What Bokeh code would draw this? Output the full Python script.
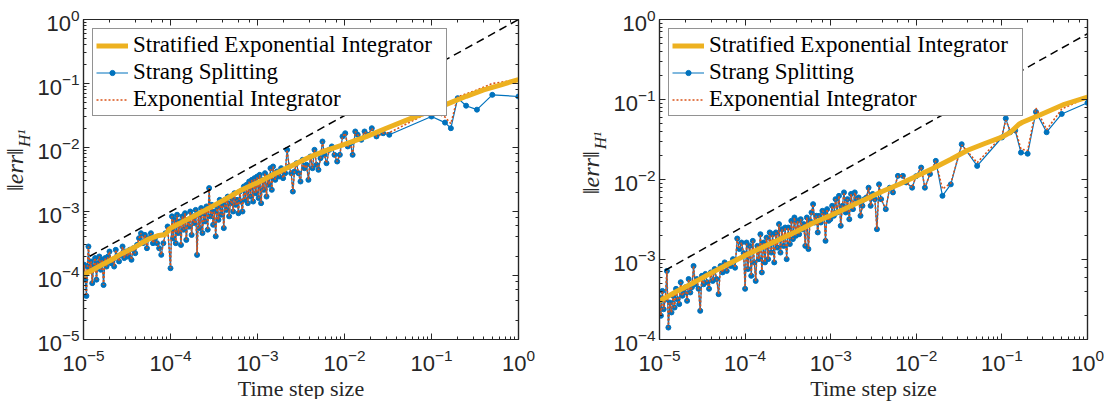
import math
from bokeh.plotting import figure
from bokeh.models import Range1d, LogAxis, Legend, LegendItem, CustomJSTickFormatter
from bokeh.layouts import row
from bokeh.embed import file_html
from bokeh.resources import INLINE
from bokeh.core.properties import value

YELLOW = "#EDB120"
BLUE = "#0072BD"
RED = "#D95319"
AX = "#262626"

# ---------------- LEFT PANEL DATA ----------------
left_strang_dt = [
    1.00e-5, 1.02e-5, 1.05e-5, 1.08e-5, 1.11e-5, 1.14e-5, 1.18e-5, 1.22e-5, 1.26e-5, 1.31e-5,
    1.36e-5, 1.41e-5, 1.46e-5, 1.52e-5, 1.58e-5, 1.64e-5, 1.70e-5, 1.77e-5, 1.84e-5, 1.91e-5,
    1.99e-5, 2.07e-5, 2.16e-5, 2.25e-5, 2.35e-5, 2.45e-5, 2.56e-5, 2.68e-5, 2.81e-5, 2.94e-5,
    3.08e-5, 3.23e-5, 3.39e-5, 3.56e-5, 3.74e-5, 3.93e-5, 4.13e-5, 4.35e-5, 4.58e-5, 4.82e-5,
    5.08e-5, 5.36e-5, 5.65e-5, 5.96e-5, 6.29e-5, 6.64e-5, 7.01e-5, 7.41e-5, 7.83e-5, 8.28e-5,
    8.76e-5, 9.27e-5,
    1.00e-4, 1.04e-4, 1.07e-4, 1.11e-4, 1.15e-4, 1.19e-4, 1.23e-4, 1.28e-4, 1.32e-4, 1.37e-4,
    1.42e-4, 1.47e-4, 1.52e-4, 1.58e-4, 1.63e-4, 1.69e-4, 1.75e-4, 1.82e-4, 1.88e-4, 1.95e-4,
    2.02e-4, 2.09e-4, 2.17e-4, 2.25e-4, 2.33e-4, 2.41e-4, 2.50e-4, 2.59e-4, 2.68e-4, 2.78e-4,
    2.88e-4, 2.98e-4, 3.09e-4, 3.20e-4, 3.31e-4, 3.43e-4, 3.56e-4, 3.68e-4, 3.82e-4, 3.95e-4,
    4.10e-4, 4.24e-4, 4.40e-4, 4.55e-4, 4.72e-4, 4.89e-4, 5.06e-4, 5.25e-4, 5.43e-4, 5.63e-4,
    5.83e-4, 6.04e-4, 6.26e-4, 6.48e-4,
    6.72e-4, 6.97e-4, 7.22e-4, 7.47e-4, 7.74e-4, 8.02e-4, 8.31e-4, 8.61e-4, 8.92e-4, 9.24e-4,
    9.57e-4, 9.91e-4, 1.03e-3, 1.06e-3, 1.10e-3, 1.14e-3, 1.18e-3, 1.22e-3, 1.27e-3, 1.31e-3,
    1.36e-3, 1.41e-3, 1.46e-3, 1.51e-3,
    1.60e-3, 1.68e-3, 1.77e-3, 1.87e-3, 1.97e-3, 2.08e-3, 2.19e-3, 2.31e-3, 2.44e-3, 2.55e-3,
    2.66e-3, 2.81e-3, 2.96e-3, 3.12e-3, 3.29e-3, 3.47e-3, 3.66e-3, 3.85e-3, 4.06e-3, 4.29e-3,
    4.52e-3, 4.77e-3, 5.02e-3, 5.30e-3, 5.58e-3, 5.89e-3, 6.21e-3, 6.67e-3, 7.15e-3, 7.67e-3,
    8.24e-3, 8.84e-3, 9.49e-3, 1.02e-2, 1.09e-2, 1.17e-2, 1.24e-2, 1.33e-2, 1.42e-2, 1.56e-2,
    1.70e-2, 1.86e-2, 2.06e-2, 2.33e-2, 2.78e-2, 3.27e-2,
    0.100, 0.143, 0.167, 0.200, 0.250, 0.333, 0.500, 1.000,
]
left_strang_err = [
    9.6e-5, 1.47e-4, 8.6e-5, 4.8e-5, 1.38e-4, 2.84e-4, 1.23e-4, 1.66e-4, 7.6e-5, 1.38e-4,
    1.87e-4, 8.6e-5, 1.56e-4, 1.98e-4, 1.23e-4, 1.76e-4, 7.1e-5, 1.87e-4, 1.38e-4, 1.98e-4,
    2.37e-4, 1.56e-4, 1.76e-4, 1.38e-4, 2.52e-4, 1.98e-4, 1.66e-4, 2.10e-4, 2.84e-4, 1.87e-4,
    2.37e-4, 1.98e-4, 2.52e-4, 1.76e-4, 2.67e-4, 2.23e-4, 3.01e-4, 3.83e-4, 4.58e-4, 3.20e-4,
    4.31e-4, 2.67e-4, 3.83e-4, 4.58e-4, 3.20e-4, 3.83e-4, 3.20e-4, 2.67e-4, 2.10e-4, 3.20e-4,
    4.58e-4, 5.83e-4,
    1.30e-4, 8.4e-4, 3.8e-4, 7.4e-4, 3.2e-4, 8.9e-4, 4.6e-4, 7.0e-4, 3.0e-4, 8.4e-4,
    5.2e-4, 9.4e-4, 3.6e-4, 7.4e-4, 5.8e-4, 1.00e-3, 4.3e-4, 8.4e-4, 6.6e-4, 1.06e-3,
    2.1e-4, 8.9e-4, 5.5e-4, 1.13e-3, 4.6e-4, 9.4e-4, 7.0e-4, 1.20e-3, 5.2e-4, 2.32e-3,
    8.4e-4, 1.27e-3, 6.2e-4, 1.00e-3, 4.1e-4, 1.20e-3, 7.4e-4, 1.52e-3, 8.9e-4, 1.27e-3,
    5.5e-4, 1.52e-3, 1.06e-3, 1.71e-3, 8.4e-4, 1.35e-3, 1.62e-3, 1.00e-3, 1.93e-3, 1.27e-3,
    1.52e-3, 9.4e-4, 2.05e-3, 1.43e-3,
    1.00e-3, 2.46e-3, 1.52e-3, 2.61e-3, 1.35e-3, 2.94e-3, 1.71e-3, 3.12e-3, 1.43e-3, 3.32e-3,
    1.93e-3, 3.52e-3, 1.62e-3, 3.74e-3, 1.35e-3, 3.12e-3, 2.18e-3, 3.97e-3, 1.71e-3, 3.52e-3,
    2.61e-3, 4.75e-3, 2.18e-3, 5.05e-3,
    3.12e-3, 4.22e-3, 3.52e-3, 4.75e-3, 3.32e-3, 3.97e-3, 9.2e-3, 5.05e-3, 3.97e-3, 2.05e-3,
    4.22e-3, 5.69e-3, 3.97e-3, 2.94e-3, 6.41e-3, 4.75e-3, 5.36e-3, 3.12e-3, 7.23e-3, 4.75e-3,
    9.2e-3, 5.36e-3, 4.48e-3, 6.81e-3, 1.24e-2, 7.67e-3, 5.69e-3, 9.2e-3, 1.04e-2, 7.67e-3,
    6.04e-3, 7.67e-3, 1.49e-2, 1.67e-2, 1.04e-2, 1.17e-2, 7.67e-3, 1.78e-2, 1.58e-2, 1.32e-2,
    1.78e-2, 1.58e-2, 2.00e-2, 1.49e-2, 1.67e-2, 1.58e-2,
    0.0305, 0.0245, 0.0200, 0.0590, 0.0450, 0.0390, 0.0665, 0.0627,
]
# Exponential integrator: identical to Strang except at the largest steps
left_expint_tail_err = [0.017, 0.037, 0.030, 0.0235, 0.062, 0.069, 0.079, 0.100, 0.115]
left_expint_err = left_strang_err[:-9] + left_expint_tail_err

left_sei_dt = [1.0e-5, 1.41e-5, 2.0e-5, 2.75e-5, 3.98e-5, 5.62e-5, 7.08e-5, 8.71e-5, 1.0e-4,
               1.58e-4, 2.51e-4, 3.98e-4, 6.61e-4, 1.0e-3, 1.58e-3, 2.51e-3, 3.98e-3, 6.31e-3,
               1.0e-2, 1.78e-2, 3.02e-2, 5.01e-2, 0.1, 0.158, 0.251, 0.398, 0.631, 1.0]
left_sei_err = [1.02e-4, 1.32e-4, 1.70e-4, 2.19e-4, 2.82e-4, 3.72e-4, 4.17e-4, 4.37e-4, 5.50e-4,
                7.59e-4, 1.05e-3, 1.48e-3, 2.19e-3, 2.82e-3, 3.89e-3, 5.25e-3, 7.08e-3, 9.12e-3,
                1.12e-2, 1.48e-2, 2.00e-2, 2.63e-2, 3.80e-2, 4.90e-2, 6.31e-2, 7.94e-2, 9.55e-2, 0.115]
left_ref_dt = [1.18e-5, 1.0]
left_ref_err = [2.0e-4, 1.0]

# ---------------- RIGHT PANEL DATA ----------------
right_strang_dt = [
    1.00e-5, 1.04e-5, 1.08e-5, 1.12e-5, 1.17e-5, 1.22e-5, 1.27e-5, 1.32e-5, 1.38e-5, 1.44e-5,
    1.50e-5, 1.56e-5, 1.63e-5, 1.70e-5, 1.77e-5, 1.85e-5, 1.93e-5, 2.01e-5, 2.10e-5, 2.19e-5,
    2.29e-5, 2.39e-5, 2.50e-5, 2.61e-5, 2.73e-5, 2.86e-5, 2.99e-5, 3.13e-5, 3.28e-5, 3.44e-5,
    3.61e-5, 3.79e-5, 3.98e-5, 4.19e-5, 4.41e-5, 4.65e-5, 4.90e-5, 5.17e-5, 5.46e-5, 5.77e-5,
    6.10e-5, 6.45e-5, 6.82e-5, 7.22e-5, 7.64e-5, 8.09e-5, 8.57e-5, 9.08e-5, 9.62e-5,
    1.00e-4, 1.04e-4, 1.08e-4, 1.13e-4, 1.18e-4, 1.23e-4, 1.28e-4, 1.33e-4, 1.39e-4, 1.45e-4,
    1.51e-4, 1.57e-4, 1.64e-4, 1.71e-4, 1.78e-4, 1.86e-4, 1.94e-4, 2.02e-4, 2.10e-4, 2.19e-4,
    2.29e-4, 2.38e-4, 2.49e-4, 2.59e-4, 2.70e-4, 2.82e-4, 2.94e-4, 3.06e-4, 3.19e-4, 3.33e-4,
    3.47e-4, 3.62e-4, 3.77e-4, 3.93e-4, 4.10e-4, 4.28e-4, 4.46e-4, 4.65e-4, 4.85e-4, 5.05e-4,
    5.27e-4, 5.49e-4, 5.73e-4, 5.97e-4, 6.23e-4, 6.49e-4, 6.77e-4, 7.06e-4, 7.36e-4, 7.67e-4,
    8.00e-4, 8.34e-4, 8.70e-4, 9.07e-4, 9.46e-4,
    9.9e-4, 1.04e-3, 1.09e-3, 1.14e-3, 1.19e-3, 1.25e-3, 1.31e-3, 1.37e-3, 1.43e-3, 1.50e-3,
    1.57e-3, 1.65e-3, 1.73e-3, 1.82e-3, 1.91e-3, 2.01e-3, 2.12e-3, 2.23e-3, 2.35e-3, 2.48e-3,
    2.62e-3, 2.77e-3, 2.93e-3, 3.10e-3, 3.28e-3, 3.47e-3, 3.67e-3, 3.88e-3, 4.40e-3, 4.89e-3,
    5.34e-3, 6.10e-3, 6.97e-3, 7.62e-3, 8.94e-3, 9.95e-3, 1.14e-2, 1.26e-2, 1.445e-2, 1.69e-2,
    2.02e-2, 2.53e-2, 3.39e-2, 5.14e-2,
    0.100, 0.111, 0.125, 0.143, 0.167, 0.200, 0.250, 0.333, 0.500, 1.000,
]
right_strang_err = [
    3.35e-4, 1.98e-4, 4.05e-4, 2.39e-4, 3.19e-4, 7.2e-4, 1.41e-4, 2.90e-4, 2.18e-4, 3.52e-4,
    2.51e-4, 4.3e-4, 3.19e-4, 2.77e-4, 5.2e-4, 3.52e-4, 3.87e-4, 4.5e-4, 3.04e-4, 5.7e-4,
    3.87e-4, 4.5e-4, 8.3e-4, 4.9e-4, 5.7e-4, 4.3e-4, 2.28e-4, 6.25e-4, 4.9e-4, 6.6e-4,
    5.2e-4, 4.3e-4, 6.9e-4, 5.4e-4, 7.6e-4, 5.7e-4, 3.69e-4, 8.3e-4, 6.9e-4, 9.2e-4,
    7.2e-4, 8.7e-4, 8.3e-4, 1.01e-3, 7.9e-4, 1.83e-3, 1.35e-3, 1.63e-3, 1.20e-3,
    4.3e-4, 1.63e-3, 7.6e-4, 1.48e-3, 6.25e-4, 1.71e-3, 9.2e-4, 5.4e-4, 1.48e-3, 1.01e-3,
    2.07e-3, 6.9e-4, 1.63e-3, 9.2e-4, 1.88e-3, 1.01e-3, 2.18e-3, 1.22e-3, 2.07e-3, 9.2e-4,
    2.18e-3, 1.41e-3, 2.77e-3, 1.22e-3, 2.39e-3, 1.48e-3, 2.51e-3, 1.01e-3, 2.51e-3, 1.56e-3,
    3.04e-3, 1.80e-3, 3.35e-3, 1.98e-3, 3.04e-3, 2.07e-3, 3.19e-3, 2.39e-3, 2.77e-3, 1.48e-3,
    3.35e-3, 1.35e-3, 3.04e-3, 3.87e-3, 4.92e-3, 2.90e-3, 3.52e-3, 2.18e-3, 3.52e-3, 2.90e-3,
    4.06e-3, 3.87e-3, 1.71e-3, 4.26e-3, 3.04e-3,
    3.19e-3, 4.69e-3, 3.52e-3, 5.68e-3, 3.87e-3, 6.25e-3, 2.64e-3, 4.69e-3, 6.9e-3, 3.87e-3,
    5.68e-3, 3.19e-3, 6.6e-3, 4.26e-3, 6.9e-3, 5.68e-3, 5.96e-3, 3.52e-3, 4.69e-3, 5.68e-3,
    5.96e-3, 7.9e-3, 4.69e-3, 6.6e-3, 5.68e-3, 2.39e-3, 8.7e-3, 5.68e-3, 4.26e-3, 7.9e-3,
    6.9e-3, 1.11e-2, 1.11e-2, 9.2e-3, 7.9e-3, 1.10e-2, 1.41e-2, 7.9e-3, 1.17e-2, 1.71e-2,
    6.25e-3, 8.7e-3, 2.76e-2, 1.48e-2,
    0.0335, 0.058, 0.039, 0.041, 0.0217, 0.021, 0.070, 0.039, 0.066, 0.091,
]
right_expint_tail_err = [7.6e-3, 9.0e-3, 2.70e-2, 1.62e-2,
                         0.035, 0.055, 0.041, 0.043, 0.024, 0.023, 0.078, 0.042, 0.076, 0.107]
right_expint_err = right_strang_err[:-14] + right_expint_tail_err

right_sei_dt = [1e-5, 1.58e-5, 2.51e-5, 3.98e-5, 6.31e-5, 1e-4, 1.58e-4, 2.51e-4, 3.98e-4, 6.31e-4,
                1e-3, 1.58e-3, 2.51e-3, 3.98e-3, 6.31e-3, 1e-2, 1.58e-2, 2.51e-2, 3.98e-2, 6.31e-2,
                0.1, 0.126, 0.158, 0.174, 0.282, 0.537, 1.0]
right_sei_err = [3.02e-4, 3.98e-4, 5.13e-4, 6.76e-4, 8.71e-4, 1.12e-3, 1.41e-3, 1.78e-3, 2.24e-3, 2.88e-3,
                 3.55e-3, 4.47e-3, 5.62e-3, 7.08e-3, 8.71e-3, 1.10e-2, 1.38e-2, 1.78e-2, 2.32e-2, 2.82e-2,
                 3.39e-2, 3.89e-2, 4.90e-2, 5.19e-2, 6.46e-2, 8.71e-2, 0.107]
right_ref_dt = [1.16e-5, 1.0]
right_ref_err = [7.3e-4, 0.665]

legend_labels = ["Stratified Exponential Integrator", "Strang Splitting", "Exponential Integrator"]
x_label = "Time step size"
y_label_main = "\u2016err\u2016"
y_label_sub = "H\u00b9"

FIG_H = 399


def style_axis(ax):
    ax.axis_line_color = AX
    ax.axis_line_width = 1.2
    ax.major_tick_line_color = AX
    ax.minor_tick_line_color = AX
    ax.major_tick_in = 6
    ax.major_tick_out = 0
    ax.minor_tick_in = 3
    ax.minor_tick_out = 0
    ax.major_label_text_font = "Liberation Sans"
    ax.major_label_text_font_size = "22px"
    ax.major_label_text_color = AX


def blank_axis():
    ax = LogAxis(formatter=CustomJSTickFormatter(code="return ''"))
    style_axis(ax)
    ax.major_label_standoff = 0
    return ax


def ylabel_fig(width, main_xy, sub_xy):
    """Narrow strip holding the rotated y-axis label (pixel coordinates)."""
    f = figure(width=width, height=FIG_H, x_range=Range1d(0, width), y_range=Range1d(0, FIG_H),
               x_axis_location=None, y_axis_location=None, min_border=0,
               output_backend="svg", toolbar_location=None)
    f.grid.visible = False
    f.outline_line_color = None
    f.border_fill_color = "white"
    f.background_fill_color = "white"
    f.text(x=[main_xy[0]], y=[main_xy[1]], text=[y_label_main], angle=math.pi / 2,
           text_align="center", text_baseline="middle",
           text_font=value("Liberation Serif"), text_font_style="italic",
           text_font_size="24px", text_color=AX)
    f.text(x=[sub_xy[0]], y=[sub_xy[1]], text=[y_label_sub], angle=math.pi / 2,
           text_align="center", text_baseline="middle",
           text_font=value("Liberation Serif"), text_font_style="italic",
           text_font_size="17px", text_color=AX)
    return f


def panel(dt, strang, expint, sei_dt, sei, ref_dt, ref_err, ymin, fw,
          bl, br, bt, bb):
    n = min(len(dt), len(strang), len(expint))
    p = figure(x_axis_type="log", y_axis_type="log",
               x_range=Range1d(1e-5, 1.0), y_range=Range1d(ymin, 1.0),
               frame_width=fw, frame_height=320,
               min_border_left=bl, min_border_right=br,
               min_border_top=bt, min_border_bottom=bb,
               output_backend="svg", toolbar_location=None)
    p.xgrid.visible = False
    p.ygrid.visible = False
    p.outline_line_color = AX
    p.outline_line_width = 1.2
    p.background_fill_color = "white"
    p.border_fill_color = "white"

    for ax in (p.xaxis[0], p.yaxis[0]):
        style_axis(ax)
    p.xaxis.major_label_standoff = 9
    p.yaxis.major_label_standoff = 4
    p.xaxis.axis_label = x_label
    p.xaxis.axis_label_text_font = "Liberation Serif"
    p.xaxis.axis_label_text_font_size = "22px"
    p.xaxis.axis_label_text_font_style = "normal"
    p.xaxis.axis_label_text_color = AX
    p.xaxis.axis_label_standoff = 2

    for side in ("above", "right"):
        p.add_layout(blank_axis(), side)

    r_bl = p.line(dt[:n], strang[:n], line_color=BLUE, line_width=1.2)
    r_bp = p.scatter(dt[:n], strang[:n], marker="circle", size=5,
                     fill_color=BLUE, line_color=BLUE)
    r_rd = p.line(dt[:n], expint[:n], line_color=RED, line_width=1.6, line_dash="2 2")
    r_y = p.line(sei_dt, sei, line_color=YELLOW, line_width=5)
    p.line(ref_dt, ref_err, line_color="black", line_width=1.5, line_dash="8 5")

    legend = Legend(items=[
        LegendItem(label=legend_labels[0], renderers=[r_y]),
        LegendItem(label=legend_labels[1], renderers=[r_bl, r_bp]),
        LegendItem(label=legend_labels[2], renderers=[r_rd]),
    ], location="top_left", margin=9, padding=3, spacing=1,
        glyph_width=32, glyph_height=13, label_height=24, label_width=310,
        label_standoff=5, label_text_font="Liberation Serif",
        label_text_font_size="23px", label_text_color="black",
        border_line_color=AX, border_line_width=1, background_fill_alpha=1.0)
    p.add_layout(legend)
    return p


# label strips: page x 8..42 (left) and 580..614 (right); y measured from the strip bottom
ylab_left = ylabel_fig(34, (14.5, 209.5), (24, 249))
left = panel(left_strang_dt, left_strang_err, left_expint_err, left_sei_dt, left_sei_err,
             left_ref_dt, left_ref_err, 1e-5, 435, 45, 58, 15, 64)
ylab_right = ylabel_fig(34, (14, 205.5), (23.5, 246))
right = panel(right_strang_dt, right_strang_err, right_expint_err, right_sei_dt, right_sei_err,
              right_ref_dt, right_ref_err, 1e-4, 428, 47, 17, 19, 60)

layout = row(ylab_left, left, ylab_right, right)
open("out.html", "w").write(file_html(layout, INLINE))
